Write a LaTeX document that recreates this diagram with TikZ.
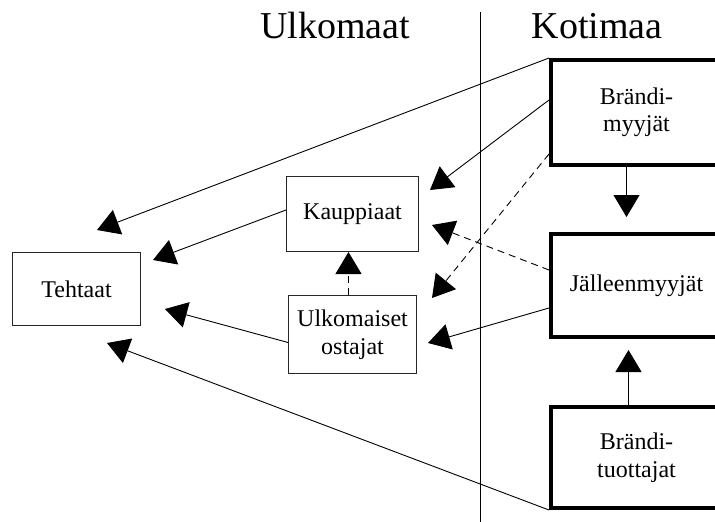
\documentclass[tikz,border=0pt]{standalone}
\usepackage{fontspec}
\setmainfont{Liberation Serif}
\usetikzlibrary{arrows.meta}
\begin{document}
\begin{tikzpicture}[x=1pt,y=-1pt,
  txt/.style={align=center, font=\fontsize{24}{27.5}\selectfont, inner sep=0pt},
  box/.style={txt, draw=black!85, line width=1pt, anchor=north west},
  bigbox/.style={txt, draw=black, line width=4pt, anchor=north west},
  head/.style={font=\fontsize{38}{41}\selectfont, inner sep=0pt},
  arr/.style={-{Triangle[length=22pt,width=26pt]}, line width=0.9pt},
  dsh/.style={dash pattern=on 7pt off 5pt}
]
\useasboundingbox (0,0) rectangle (715,522);

% headers and divider
\node[head] (hu) at (335,26) {Ulkomaat};
\node[head] (hk) at (597,26) {Kotimaa};
\coordinate (vt) at (480,12);
\coordinate (vb) at (480,522);
\draw[line width=0.8pt] (vt) -- (vb);

% boxes
\node[box, minimum width=128pt, minimum height=73pt] (teh) at (12,252) {Tehtaat};
\node[box, minimum width=132pt, minimum height=75pt] (kau) at (286,176) {Kauppiaat};
\node[box, minimum width=128pt, minimum height=78pt] (ulk) at (288,295) {Ulkomaiset\\ostajat};
\node[bigbox, minimum width=171pt, minimum height=105pt] (bm) at (549,58) {Brändi-\\myyjät};
\node[bigbox, minimum width=171pt, minimum height=103pt] (jm) at (549,232) {Jälleenmyyjät};
\node[bigbox, minimum width=171pt, minimum height=101pt] (bt) at (549,405) {Brändi-\\tuottajat};

% arrow tips
\coordinate (t1) at (97,230);
\coordinate (t2) at (430,190);
\coordinate (t3) at (432,298);
\coordinate (t4) at (432,225);
\coordinate (t5) at (428,343);
\coordinate (t6) at (153,260);
\coordinate (t7) at (165,309);
\coordinate (t8) at (107,343);

% connectors
\draw[arr] (bm.north west) -- (t1);
\draw[arr] ([yshift=-42pt]bm.north west) -- (t2);
\draw[arr, dsh] ([yshift=13pt]bm.south west) -- (t3);
\draw[arr, dsh] ([yshift=-38pt]jm.north west) -- (t4);
\draw[arr] ([yshift=-76pt]jm.north west) -- (t5);
\draw[arr] ([yshift=4pt]kau.west) -- (t6);
\draw[arr] ([yshift=-8pt]ulk.west) -- (t7);
\draw[arr] (bt.south west) -- (t8);
\draw[arr, dsh] ([xshift=-4pt]ulk.north) -- ([xshift=-4pt]kau.south);
\draw[arr, shorten >=15pt] ([xshift=-10pt]bm.south) -- ([xshift=-10pt]jm.north);
\draw[arr, shorten >=11pt] ([xshift=-8pt]bt.north) -- ([xshift=-8pt]jm.south);
\end{tikzpicture}
\end{document}
